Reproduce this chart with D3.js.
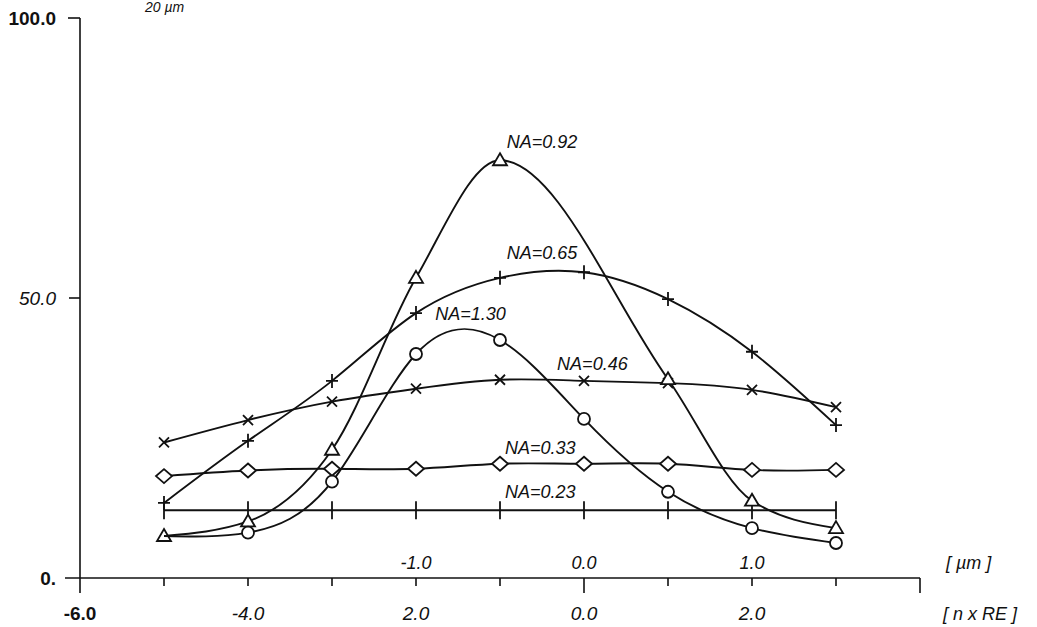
<html>
  <head>
    <title>NA curves</title>
    <script type="text/javascript" src="https://cdn.jsdelivr.net/npm/d3@7/dist/d3.min.js"></script>
    <style>
      body { margin: 0; background: #fff; }
      text { font-family: "Liberation Sans", Arial, sans-serif; fill: #111; }
    </style>
    <script type="text/javascript">
      // sample positions (in n x RE) and the six curves
      var positions = [-5, -4, -3, -2, -1, 0, 1, 2, 3];
      var na023 = [12.1, 12.1, 12.1, 12.1, 12.1, 12.1, 12.1, 12.1, 12.1];
      var na033 = [18.2, 19.2, 19.5, 19.5, 20.4, 20.4, 20.4, 19.3, 19.3];
      var na046 = [24.2, 28.2, 31.5, 33.8, 35.4, 35.2, 34.8, 33.6, 30.5];
      var na065 = [13.4, 24.5, 35.2, 47.3, 53.6, 54.6, 49.8, 40.4, 27.3];
      var na092 = [7.5, 10.1, 22.9, 53.6, 74.6, null, 35.5, 13.8, 8.9];
      var na130 = [7.5, 8.1, 17.2, 40.0, 42.5, 28.4, 15.4, 8.9, 6.25];

      var lowerTicks = [-6, -5, -4, -3, -2, -1, 0, 1, 2, 3, 4];
      var lowerLabels = {"-6": "-6.0", "-4": "-4.0", "-2": "2.0", "0": "0.0", "2": "2.0"};
      var upperLabels = {"-2": "-1.0", "0": "0.0", "2": "1.0"};
      var yLabels = [[0, "0."], [50, "50.0"], [100, "100.0"]];

      function ready(fn) {
        if (document.readyState != 'loading'){ fn() }
        else { document.addEventListener('DOMContentLoaded', fn) }
      }
      ready(function() {
        drawChart();
      });

      function drawChart() {
        var svg = d3.select("#chart");
        var x = d3.scaleLinear().domain([-6, 4]).range([80, 920]);
        var y = d3.scaleLinear().domain([0, 100]).range([578, 18]);

        var series = [
          {name: "NA=0.23", values: na023, mark: "bar", skip: [], label: [-0.94, 14.2]},
          {name: "NA=0.33", values: na033, mark: "diamond", skip: [], label: [-0.94, 22.2]},
          {name: "NA=0.46", values: na046, mark: "cross", skip: [], label: [-0.32, 37.2]},
          {name: "NA=0.65", values: na065, mark: "plus", skip: [], label: [-0.92, 56.9]},
          {name: "NA=0.92", values: na092, mark: "triangle", skip: [], label: [-0.92, 76.8]},
          {name: "NA=1.30", values: na130, mark: "circle", skip: [0], label: [-1.77, 46.1]}
        ];

        // axes
        var axes = svg.append("g").attr("stroke", "#111").attr("stroke-width", 1.6).attr("fill", "none");
        axes.append("line").attr("x1", x(-6)).attr("x2", x(-6)).attr("y1", y(100)).attr("y2", y(0) + 15);
        axes.append("line").attr("x1", x(-6) - 15).attr("x2", x(4)).attr("y1", y(0)).attr("y2", y(0));
        axes.append("line").attr("x1", x(-6) - 12).attr("x2", x(-6)).attr("y1", y(100)).attr("y2", y(100));
        axes.append("line").attr("x1", x(-6) - 11).attr("x2", x(-6)).attr("y1", y(50)).attr("y2", y(50));
        axes.selectAll(".xt")
          .data(lowerTicks.slice(1))
          .enter().append("line")
            .attr("x1", function(d) { return x(d); })
            .attr("x2", function(d) { return x(d); })
            .attr("y1", y(0))
            .attr("y2", function(d) { return y(0) + (d == 0 || d == 4 ? 15 : 8); });

        svg.selectAll(".yl")
          .data(yLabels)
          .enter().append("text")
            .attr("x", x(-6) - 24)
            .attr("y", function(d) { return y(d[0]) + 7; })
            .attr("text-anchor", "end")
            .style("font-size", "19px")
            .style("font-weight", function(d) { return d[0] == 50 ? "normal" : "bold"; })
            .style("font-style", function(d) { return d[0] == 50 ? "italic" : "normal"; })
            .text(function(d) { return d[1]; });

        svg.selectAll(".xl")
          .data(lowerTicks.filter(function(d) { return lowerLabels[d]; }))
          .enter().append("text")
            .attr("x", function(d) { return x(d); })
            .attr("y", 620)
            .attr("text-anchor", "middle")
            .style("font-size", "19px")
            .style("font-weight", function(d) { return d == -6 ? "bold" : "normal"; })
            .style("font-style", function(d) { return d == -6 ? "normal" : "italic"; })
            .text(function(d) { return lowerLabels[d]; });

        svg.selectAll(".ul")
          .data(lowerTicks.filter(function(d) { return upperLabels[d]; }))
          .enter().append("text")
            .attr("x", function(d) { return x(d); })
            .attr("y", 569)
            .attr("text-anchor", "middle")
            .style("font-size", "18px")
            .style("font-style", "italic")
            .text(function(d) { return upperLabels[d]; });

        svg.append("text").attr("x", 946).attr("y", 569)
          .style("font-size", "18px").style("font-style", "italic").text("[ \u00b5m ]");
        svg.append("text").attr("x", 943).attr("y", 620)
          .style("font-size", "18px").style("font-style", "italic").text("[ n x RE ]");
        // scale note at the top edge (cut off in the scan)
        svg.append("text").attr("x", 145).attr("y", 12)
          .style("font-size", "14px").style("font-style", "italic").text("20 \u00b5m");

        // curves: natural splines, monotone for the NA=0.92 one (it skips 0)
        var line = d3.line()
          .x(function(d) { return x(d[0]); })
          .y(function(d) { return y(d[1]); });

        var g = svg.selectAll(".series")
          .data(series)
          .enter().append("g");

        g.append("path")
          .attr("fill", "none")
          .attr("stroke", "#111")
          .attr("stroke-width", 1.9)
          .attr("d", function(s) {
            var pts = positions.map(function(p, i) { return [p, s.values[i]]; })
              .filter(function(d) { return d[1] != null; });
            return line.curve(s.mark == "triangle" ? d3.curveMonotoneX : d3.curveNatural)(pts);
          });

        var symbols = {
          triangle: "M0,-7L7,5L-7,5Z",
          diamond: "M0,-7L8,0L0,7L-8,0Z",
          cross: "M-5,-5L5,5M5,-5L-5,5",
          plus: "M-6,0L6,0M0,-7L0,7",
          bar: "M0,-9L0,9"
        };

        g.each(function(s) {
          var pts = positions.map(function(p, i) { return [p, s.values[i], i]; })
            .filter(function(d) { return d[1] != null && s.skip.indexOf(d[2]) < 0; });
          var sel = d3.select(this).selectAll(".m")
            .data(pts)
            .enter();
          if (s.mark == "circle") {
            sel.append("circle")
              .attr("cx", function(d) { return x(d[0]); })
              .attr("cy", function(d) { return y(d[1]); })
              .attr("r", 6)
              .attr("fill", "#fff")
              .attr("stroke", "#111")
              .attr("stroke-width", 1.8);
          } else {
            sel.append("path")
              .attr("transform", function(d) { return "translate(" + x(d[0]) + "," + y(d[1]) + ")"; })
              .attr("d", symbols[s.mark])
              .attr("fill", s.mark == "triangle" || s.mark == "diamond" ? "#fff" : "none")
              .attr("stroke", "#111")
              .attr("stroke-width", 1.8);
          }
        });

        g.append("text")
          .attr("x", function(s) { return x(s.label[0]); })
          .attr("y", function(s) { return y(s.label[1]); })
          .style("font-size", "18px")
          .style("font-style", "italic")
          .text(function(s) { return s.name; });
      }
    </script>
  </head>
  <body>
    <svg width="1037" height="627" id="chart"></svg>
  </body>
</html>
